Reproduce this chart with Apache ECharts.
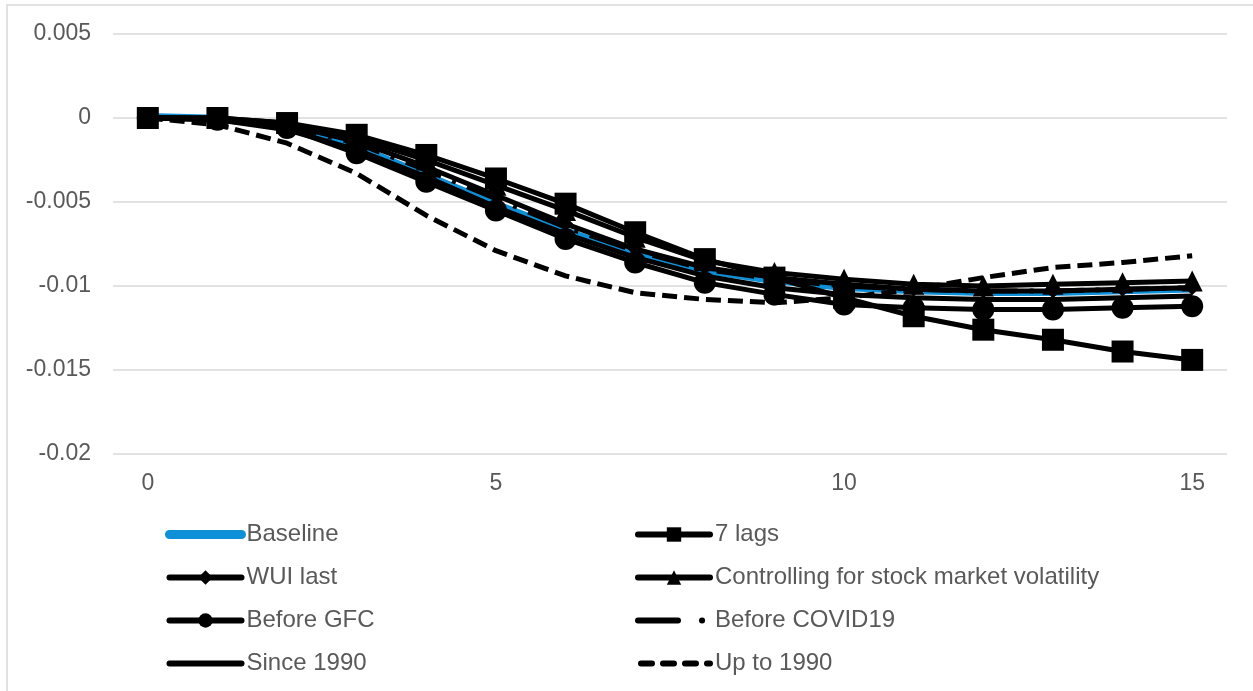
<!DOCTYPE html>
<html>
<head>
<meta charset="utf-8">
<script src="https://cdn.jsdelivr.net/npm/echarts@6/dist/echarts.min.js"></script>
<style>
html,body{margin:0;padding:0;background:#fff;}
#chart{width:1253px;height:691px;}
</style>
</head>
<body>
<div id="chart"></div>
<script>
const categories = ['0','1','2','3','4','5','6','7','8','9','10','11','12','13','14','15'];
const yTicks = [0.005, 0, -0.005, -0.01, -0.015, -0.02];

const baseline      = [0.0001, 0.0000, -0.0006, -0.0017, -0.0034, -0.0051, -0.0067, -0.0081, -0.0091, -0.0097, -0.0101, -0.0103, -0.0104, -0.0104, -0.0103, -0.0102];
const lags7         = [0.0000, 0.0000, -0.0003, -0.0010, -0.0022, -0.0036, -0.0051, -0.0068, -0.0084, -0.0095, -0.0107, -0.0118, -0.0126, -0.0132, -0.0139, -0.0144];
const wuiLast       = [0.0000, 0.0000, -0.0004, -0.0014, -0.0029, -0.0046, -0.0063, -0.0078, -0.0089, -0.0095, -0.0099, -0.0102, -0.0103, -0.0103, -0.0102, -0.0101];
const stockVol      = [0.0000, 0.0000, -0.0003, -0.0012, -0.0025, -0.0040, -0.0055, -0.0071, -0.0085, -0.0092, -0.0096, -0.0099, -0.0100, -0.0099, -0.0098, -0.0097];
const beforeGFC     = [0.0000, -0.0001, -0.0006, -0.0021, -0.0038, -0.0055, -0.0072, -0.0086, -0.0098, -0.0105, -0.0111, -0.0113, -0.0114, -0.0114, -0.0113, -0.0112];
const beforeCOVID   = [0.0000, 0.0000, -0.0005, -0.0015, -0.0031, -0.0048, -0.0065, -0.0079, -0.0090, -0.0096, -0.0100, -0.0102, -0.0103, -0.0103, -0.0102, -0.0101];
const since1990     = [0.0000, -0.0001, -0.0007, -0.0019, -0.0035, -0.0053, -0.0069, -0.0083, -0.0094, -0.0101, -0.0105, -0.0107, -0.0108, -0.0108, -0.0107, -0.0106];
const upTo1990      = [0.0000, -0.0004, -0.0015, -0.0033, -0.0058, -0.0079, -0.0094, -0.0104, -0.0108, -0.0110, -0.0107, -0.0102, -0.0095, -0.0089, -0.0086, -0.0082];

const BLUE = '#0E90D8';
const FONT = 'Liberation Sans, Arial, sans-serif';
const TXT = '#595959';
const LW = 5;

const chart = echarts.init(document.getElementById('chart'), null, {renderer:'canvas'});

function lineSeries(name, data, opts) {
  return Object.assign({
    name: name, type: 'line', data: data, animation: false,
    symbol: 'none', showSymbol: true, smooth: false,
    lineStyle: {color: '#000', width: LW},
    itemStyle: {color: '#000'},
    emphasis: {disabled: true}
  }, opts);
}

const covidDash = [38, 12, 4, 12];
const upDash = [15, 7];

const series = [
  lineSeries('Baseline', baseline, {lineStyle:{color: BLUE, width: 6.5}, itemStyle:{color: BLUE}, z: 1}),
  lineSeries('Since 1990', since1990, {z: 2}),
  lineSeries('Up to 1990', upTo1990, {lineStyle:{color:'#000', width:LW, type:upDash}, z: 2}),
  lineSeries('WUI last', wuiLast, {symbol:'diamond', symbolSize:15, z: 3}),
  lineSeries('Before GFC', beforeGFC, {symbol:'circle', symbolSize:22, z: 3}),
  lineSeries('Controlling for stock market volatility', stockVol, {symbol:'triangle', symbolSize:21, z: 3}),
  lineSeries('7 lags', lags7, {symbol:'rect', symbolSize:22, z: 3}),
  lineSeries('Before COVID19', beforeCOVID, {lineStyle:{color:'#000', width:LW, type:covidDash}, z: 4})
];

const legendCommon = {
  orient: 'vertical', top: 516, itemWidth: 72, itemHeight: 18, itemGap: 16,
  selectedMode: false,
  textStyle: {fontFamily: FONT, fontSize: 24, color: TXT, lineHeight: 27}
};

chart.setOption({
  backgroundColor: '#fff',
  animation: false,
  graphic: [{type:'rect', shape:{x:7, y:5, width:1300, height:800}, style:{fill:'none', stroke:'#D9D9D9', lineWidth:1.5}, silent:true}],
  grid: {left: 113, right: 26, top: 34, bottom: 237, containLabel: false},
  legend: [
    Object.assign({}, legendCommon, {left: 160, data: [
      {name:'Baseline', itemStyle:{opacity:0}, lineStyle:{width:9, cap:'round'}},
      {name:'WUI last', lineStyle:{width:6, cap:'round'}},
      {name:'Before GFC', lineStyle:{width:6, cap:'round'}},
      {name:'Since 1990', itemStyle:{opacity:0}, lineStyle:{width:6, cap:'round'}}
    ]}),
    Object.assign({}, legendCommon, {left: 630, data: [
      {name:'7 lags', lineStyle:{width:6, cap:'round'}},
      {name:'Controlling for stock market volatility', lineStyle:{width:6, cap:'round'}},
      {name:'Before COVID19', itemStyle:{opacity:0}, lineStyle:{width:6, type:[40,24,0.1,30], cap:'round'}},
      {name:'Up to 1990', itemStyle:{opacity:0}, lineStyle:{width:6, type:[11,11], cap:'round', dashOffset:-3}}
    ]})
  ],
  xAxis: {
    type: 'category', data: categories, boundaryGap: true,
    axisLine: {show: false}, axisTick: {show: false},
    axisLabel: {interval: 4, margin: 18, fontFamily: FONT, fontSize: 23, color: TXT},
    splitLine: {show: false}
  },
  yAxis: {
    type: 'value', min: -0.02, max: 0.005, interval: 0.005,
    axisLine: {show: false}, axisTick: {show: false},
    axisLabel: {margin: 22, fontFamily: FONT, fontSize: 23, color: TXT,
      formatter: function(v){ const t = yTicks.find(x => Math.abs(x - v) < 1e-9); return String(t !== undefined ? t : v); }},
    splitLine: {lineStyle: {color: '#D9D9D9', width: 1.5}}
  },
  series: series
});
</script>
</body>
</html>
